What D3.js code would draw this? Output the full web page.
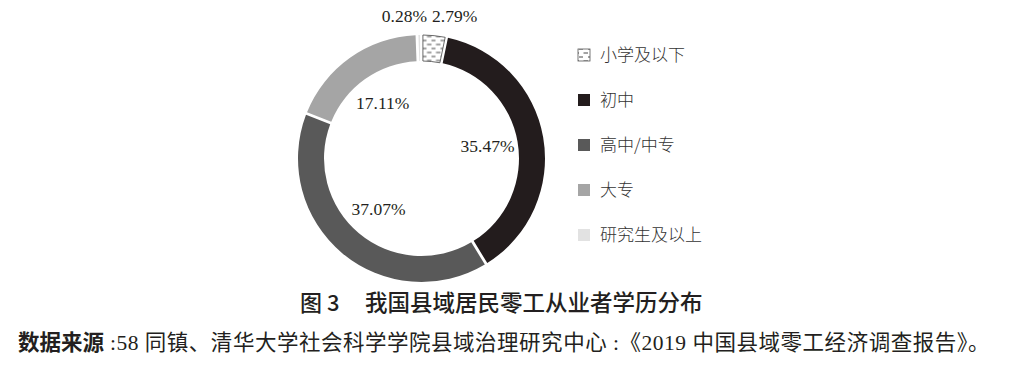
<!DOCTYPE html>
<html>
<head>
<meta charset="utf-8">
<script src="https://cdn.jsdelivr.net/npm/d3@7"></script>
<style>
  body { margin: 0; background: #fff; }
  svg { display: block; }
</style>
</head>
<body>
<div id="chart"></div>
<script>
// data
const categories = ["小学及以下", "初中", "高中/中专", "大专", "研究生及以上"];
const shares = [2.79, 35.47, 37.07, 17.11, 0.28];
const shareLabels = ["2.79%", "35.47%", "37.07%", "17.11%", "0.28%"];
const colors = ["url(#dash)", "#231c1d", "#595959", "#a5a5a5", "#e2e2e2"];
const title = "我国县域居民零工从业者学历分布";
const figNo = "图 3";
const sourceHead = "数据来源";
const sourceBody = " :58 同镇、清华大学社会科学学院县域治理研究中心 :《2019 中国县域零工经济调查报告》。";

const W = 1023, H = 372;
const cx = 421.5, cy = 158.5, outerR = 123.5, innerR = 97.5;

const svg = d3.select("#chart").append("svg")
    .attr("width", W)
    .attr("height", H);
svg.append("rect").attr("width", W).attr("height", H).attr("fill", "#fff");

// dashed fill for the first slice
const defs = svg.append("defs");
const pat = defs.append("pattern")
    .attr("id", "dash")
    .attr("patternUnits", "userSpaceOnUse")
    .attr("width", 9).attr("height", 8);
pat.append("rect").attr("width", 9).attr("height", 8).attr("fill", "#fff");
pat.append("line").attr("x1", 1).attr("y1", 2).attr("x2", 5).attr("y2", 2)
    .attr("stroke", "#333").attr("stroke-width", 0.9);
pat.append("line").attr("x1", 5.5).attr("y1", 6).attr("x2", 9).attr("y2", 6)
    .attr("stroke", "#333").attr("stroke-width", 0.9);
pat.append("line").attr("x1", 0).attr("y1", 6).attr("x2", 1).attr("y2", 6)
    .attr("stroke", "#333").attr("stroke-width", 0.9);

const data = categories.map((c, i) => ({cat: c, value: shares[i], label: shareLabels[i], color: colors[i]}));

const pie = d3.pie()
    .value(d => d.value)
    .sort(null)
    .padAngle(0.018);

const arc = d3.arc().innerRadius(innerR).outerRadius(outerR);
const labelArc = d3.arc().innerRadius(67).outerRadius(67);

const g = svg.append("g").attr("transform", `translate(${cx},${cy})`);
const arcs = pie(data);

g.selectAll("path")
    .data(arcs)
    .join("path")
    .attr("d", arc)
    .attr("fill", d => d.data.color)
    .attr("stroke", (d, i) => i === 0 ? "#444" : "none")
    .attr("stroke-width", 0.8);

// labels inside ring for big slices, above ring for the tiny ones
g.selectAll("text.val")
    .data(arcs)
    .join("text")
    .attr("class", "val")
    .attr("font-family", "'Liberation Serif', 'Times New Roman', serif")
    .attr("font-size", 17.5)
    .attr("fill", "#231f20")
    .attr("text-anchor", d => d.data.value > 5 ? "middle" : (d.index === 0 ? "start" : "end"))
    .attr("x", d => {
        if (d.data.value > 5) return labelArc.centroid(d)[0];
        return d.index === 0 ? 10.5 : 5.5;
    })
    .attr("y", d => {
        if (d.data.value > 5) return labelArc.centroid(d)[1] + 5;
        return 22 - cy;
    })
    .text(d => d.data.label);

// legend
const legend = svg.append("g").attr("transform", "translate(578,55)");
const item = legend.selectAll("g")
    .data(data)
    .join("g")
    .attr("transform", (d, i) => `translate(0,${i * 45})`);
item.append("rect")
    .attr("x", 0).attr("y", -6)
    .attr("width", 12).attr("height", 12)
    .attr("fill", d => d.color)
    .attr("stroke", (d, i) => i === 0 ? "#555" : "none")
    .attr("stroke-width", 0.8);
item.append("text")
    .attr("x", 22).attr("y", 0)
    .attr("dy", "0.35em")
    .attr("font-family", "'Noto Sans CJK SC', sans-serif")
    .attr("font-weight", 300)
    .attr("font-size", 17)
    .attr("fill", "#333")
    .text(d => d.cat);

// caption
svg.append("text")
    .attr("x", 300).attr("y", 311)
    .attr("font-family", "'Noto Sans CJK SC', sans-serif")
    .attr("font-weight", 500)
    .attr("font-size", 22)
    .attr("fill", "#231f20")
    .text(figNo);
svg.append("text")
    .attr("x", 365).attr("y", 311)
    .attr("font-family", "'Noto Sans CJK SC', sans-serif")
    .attr("font-weight", 500)
    .attr("font-size", 22.5)
    .attr("fill", "#231f20")
    .text(title);

const src = svg.append("text")
    .attr("x", 18).attr("y", 350)
    .attr("font-size", 21.5)
    .attr("fill", "#231f20");
src.append("tspan")
    .attr("font-family", "'Noto Sans CJK SC', sans-serif")
    .attr("font-weight", 700)
    .text(sourceHead);
const body = src.append("tspan")
    .attr("font-family", "'Liberation Serif', 'Noto Sans CJK SC', serif")
    .attr("font-weight", 400)
    .text(sourceBody);

// stretch the source line so it ends where the printed one does
const used = src.node().getComputedTextLength();
const extra = (990 - 18 - used) / sourceBody.length;
body.attr("letter-spacing", Math.max(0, extra));
</script>
</body>
</html>
